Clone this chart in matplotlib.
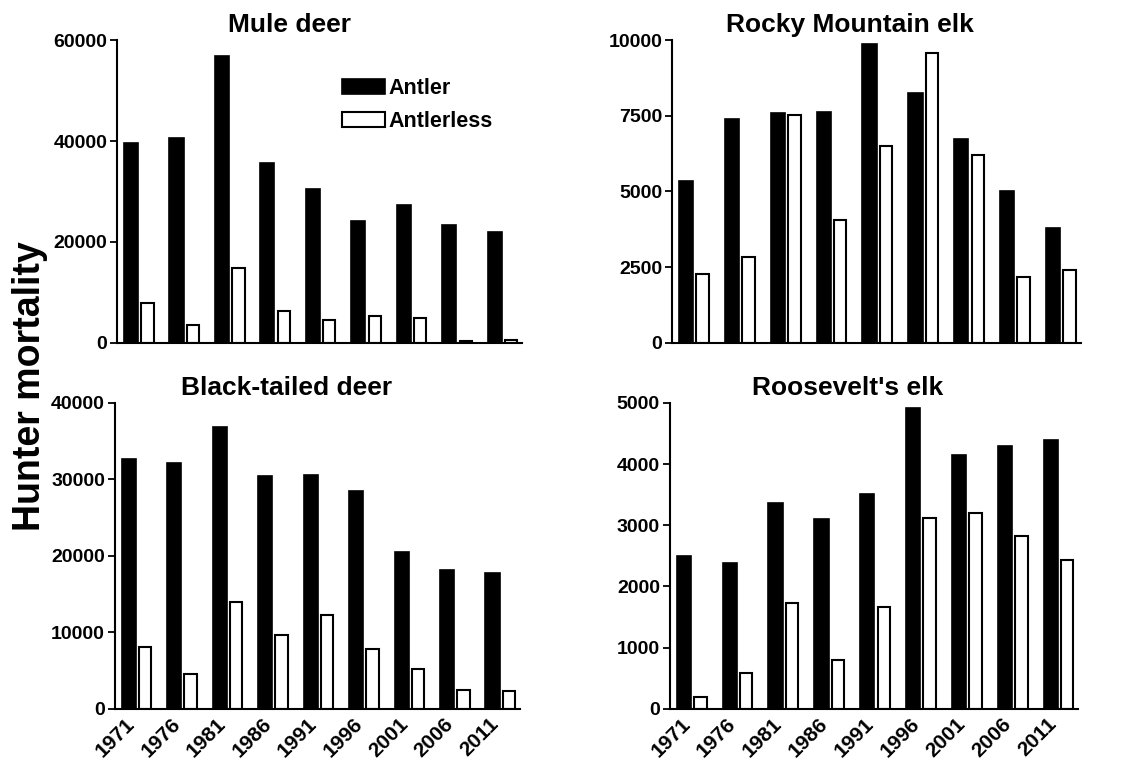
import matplotlib.pyplot as plt
import numpy as np

plt.rcParams['font.family'] = ['Liberation Sans', 'DejaVu Sans']
plt.rcParams['font.weight'] = 'bold'

# Datos
years = ['1971', '1976', '1981', '1986', '1991', '1996', '2001', '2006', '2011']

mule_antler = [39700, 40600, 56800, 35600, 30500, 24200, 27400, 23400, 22000]
mule_antlerless = [7800, 3600, 14900, 6300, 4500, 5300, 5000, 400, 600]

rocky_antler = [5360, 7400, 7600, 7640, 9860, 8240, 6720, 5010, 3800]
rocky_antlerless = [2270, 2840, 7510, 4070, 6500, 9580, 6190, 2180, 2400]

black_antler = [32700, 32200, 36800, 30500, 30600, 28500, 20500, 18100, 17800]
black_antlerless = [8100, 4600, 13900, 9600, 12300, 7800, 5200, 2400, 2300]

roos_antler = [2500, 2380, 3370, 3100, 3510, 4920, 4150, 4300, 4400]
roos_antlerless = [190, 590, 1730, 800, 1670, 3120, 3200, 2830, 2430]

fig = plt.figure(figsize=(11.35, 7.72), dpi=100)

panels = [
    ([0.103, 0.556, 0.357, 0.392], 'Mule deer', mule_antler, mule_antlerless, 60000, 20000, False),
    ([0.592, 0.556, 0.360, 0.392], 'Rocky Mountain elk', rocky_antler, rocky_antlerless, 10000, 2500, False),
    ([0.101, 0.082, 0.357, 0.396], 'Black-tailed deer', black_antler, black_antlerless, 40000, 10000, True),
    ([0.590, 0.082, 0.360, 0.396], "Roosevelt's elk", roos_antler, roos_antlerless, 5000, 1000, True),
]

x = np.arange(len(years))
w = 0.31
for pos, title, antler, antlerless, ymax, step, show_years in panels:
    ax = fig.add_axes(pos)
    ax.bar(x, antler, width=w, color='black', edgecolor='black', linewidth=1.2, label='Antler')
    ax.bar(x + 0.36, antlerless, width=w * 0.88, color='white', edgecolor='black', linewidth=1.5, label='Antlerless')
    ax.set_xlim(-0.31, 8.6)
    ax.set_ylim(0, ymax)
    ax.set_yticks(np.arange(0, ymax + 1, step))
    ax.tick_params(axis='y', labelsize=14, width=1.3, length=5, pad=2)
    ax.spines['top'].set_visible(False)
    ax.spines['right'].set_visible(False)
    ax.spines['left'].set_linewidth(1.5)
    ax.spines['bottom'].set_linewidth(1.5)
    if show_years:
        ax.set_xticks(x + 0.22)
        ax.set_xticklabels(years, rotation=45, ha='right', fontsize=15)
        ax.tick_params(axis='x', length=0, pad=4)
    else:
        ax.set_xticks([])
    xt = 0.425 if pos[0] < 0.5 else 0.436
    ax.set_title(title, fontsize=19, fontweight='bold', x=xt, pad=6)
    if title == 'Mule deer':
        ax.legend(loc='upper left', bbox_to_anchor=(0.555, 0.875), frameon=False, fontsize=15.5,
                  handlelength=2.0, handleheight=0.7, handletextpad=0.15, labelspacing=0.55,
                  borderaxespad=0, borderpad=0)

fig.text(0.026, 0.5, 'Hunter mortality', rotation=90, va='center', ha='center',
         fontsize=27, fontweight='bold')

fig.savefig('out.png', dpi=100)
